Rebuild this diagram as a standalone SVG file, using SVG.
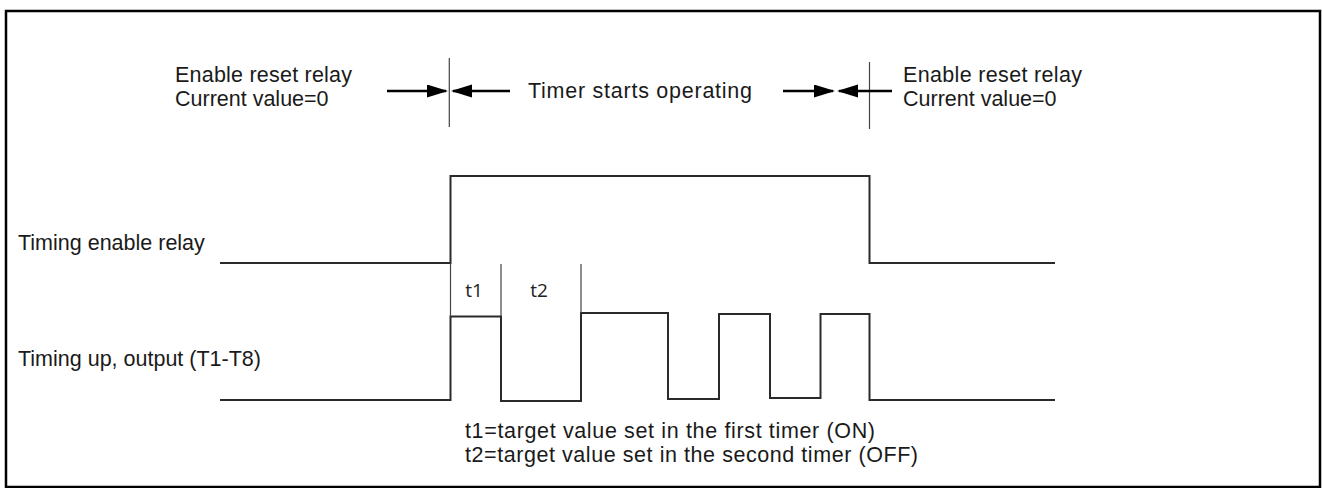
<svg xmlns="http://www.w3.org/2000/svg" width="1322" height="488" viewBox="0 0 1322 488">
<style>
  .txt { font-family: "Liberation Sans", Arial, sans-serif; font-size: 21.5px; fill: #1a1a1a; }
  .lbl { font-family: "Open Sans", "Noto Sans", sans-serif; font-size: 19px; fill: #222; }
  .wave { fill: none; stroke: #2a2a2a; stroke-width: 2; }
  .thin { fill: none; stroke: #444; stroke-width: 1.2; }
  .arrow { stroke: #000; stroke-width: 2.5; marker-end: url(#head); }
</style>
<defs>
  <marker id="head" markerUnits="userSpaceOnUse" markerWidth="22" markerHeight="14" refX="19" refY="6.5" orient="auto">
    <path d="M0,0 L21,6.5 L0,13 Z" fill="#000"/>
  </marker>
</defs>
<rect x="6" y="11" width="1314" height="476" fill="#fff" stroke="#000" stroke-width="2.5"/>

<g id="label-reset-left">
  <text class="txt" x="175" y="82" textLength="177" lengthAdjust="spacing">Enable reset relay</text>
  <text class="txt" x="175" y="106">Current value=0</text>
</g>
<g id="label-timer">
  <text class="txt" x="528" y="98" textLength="224" lengthAdjust="spacing">Timer starts operating</text>
</g>
<g id="label-reset-right">
  <text class="txt" x="903" y="82" textLength="179" lengthAdjust="spacing">Enable reset relay</text>
  <text class="txt" x="903" y="106">Current value=0</text>
</g>
<g id="label-enable">
  <text class="txt" x="18" y="250">Timing enable relay</text>
</g>
<g id="label-output">
  <text class="txt" x="18" y="366">Timing up, output (T1-T8)</text>
</g>
<g id="legend">
  <text class="txt" x="465" y="438" textLength="410" lengthAdjust="spacing">t1=target value set in the first timer (ON)</text>
  <text class="txt" x="465" y="462" textLength="453" lengthAdjust="spacing">t2=target value set in the second timer (OFF)</text>
</g>
<g id="signal-enable">
  <path class="wave" d="M220,263 H450.5 V176 H869.5 V263 H1055"/>
</g>
<g id="signal-output">
  <path class="wave" d="M220,400 H450.5 V316.5 H501 V401 H581 V313 H668 V399 H719 V314 H770 V398 H820.5 V314 H869.5 V400 H1055"/>
</g>
<g id="intervals">
  <path class="thin" d="M450.5,263 V316 M501,264 V316 M581,264 V313"/>
  <text class="lbl" x="474" y="297" text-anchor="middle">t1</text>
  <text class="lbl" x="539" y="297" text-anchor="middle">t2</text>
</g>
<g id="connectors">
  <path class="thin" d="M449.3,58 V127 M869.5,62 V129"/>
  <line class="arrow" x1="387" y1="91" x2="446" y2="91"/>
  <line class="arrow" x1="510" y1="91" x2="453" y2="91"/>
  <line class="arrow" x1="783" y1="91" x2="833" y2="91"/>
  <line class="arrow" x1="892" y1="91" x2="839" y2="91"/>
</g>
</svg>
